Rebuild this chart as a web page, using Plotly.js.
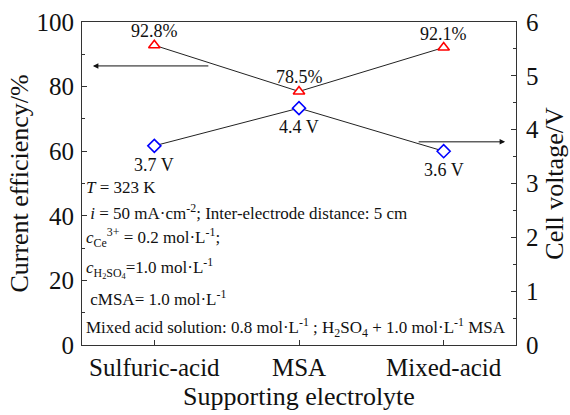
<!DOCTYPE html>
<html>
<head>
<meta charset="utf-8">
<script src="https://cdn.plot.ly/plotly-3.0.1.min.js"></script>
<style>
  html, body { margin: 0; padding: 0; background: #fff; }
  #chart { width: 570px; height: 415px; }
</style>
</head>
<body>
<div id="chart"></div>
<script>
// Supporting electrolytes compared
const electrolytes = ['Sulfuric-acid', 'MSA', 'Mixed-acid'];
// Current efficiency, %
const efficiency = [92.8, 78.5, 92.1];
// Cell voltage, V
const voltage = [3.7, 4.4, 3.6];

const serif = '"Liberation Serif", "Times New Roman", serif';

const traces = [
  {
    x: electrolytes,
    y: efficiency,
    type: 'scatter',
    mode: 'lines+markers',
    line: { color: '#222', width: 1 },
    marker: { symbol: 'triangle-up', size: 10, color: '#fff', line: { color: '#ff0000', width: 1.6 } },
    cliponaxis: false,
    hoverinfo: 'skip'
  },
  {
    x: electrolytes,
    y: voltage,
    yaxis: 'y2',
    type: 'scatter',
    mode: 'lines+markers',
    line: { color: '#222', width: 1 },
    marker: { symbol: 'diamond', size: 10, color: '#fff', line: { color: '#0000ff', width: 1.6 } },
    cliponaxis: false,
    hoverinfo: 'skip'
  }
];

// Value labels: above the efficiency points, below the voltage points
const labelFont = { family: serif, size: 18, color: '#111' };
const valueLabels = []
  .concat(efficiency.map((v, i) => ({
    x: electrolytes[i], y: v, xref: 'x', yref: 'y',
    text: v.toFixed(1) + '%', showarrow: false, yshift: 14, font: labelFont
  })))
  .concat(voltage.map((v, i) => ({
    x: electrolytes[i], y: v, xref: 'x', yref: 'y2',
    text: v.toFixed(1) + ' V', showarrow: false, yshift: -19, font: labelFont
  })));

const noteFont = { family: serif, size: 17, color: '#111' };
const notes = [
  { y: 0.489, text: '<i>T</i> = 323 K' },
  { y: 0.412, text: ' <i>i</i> = 50 mA·cm<sup>-2</sup>; Inter-electrode distance: 5 cm' },
  { y: 0.334, text: '<i>c</i><sub>Ce</sub><sup>3+</sup> = 0.2 mol·L<sup>-1</sup>;' },
  { y: 0.238, text: '<i>c</i><sub>H<sub>2</sub>SO<sub>4</sub></sub>=1.0 mol·L<sup>-1</sup>' },
  { y: 0.146, text: ' cMSA= 1.0 mol·L<sup>-1</sup>' },
  { y: 0.053, text: 'Mixed acid solution: 0.8 mol·L<sup>-1</sup> ; H<sub>2</sub>SO<sub>4</sub> + 1.0 mol·L<sup>-1</sup> MSA' }
].map(n => ({
  xref: 'paper', yref: 'paper', x: 0.005, y: n.y,
  xanchor: 'left', yanchor: 'middle',
  text: n.text, showarrow: false, font: noteFont
}));

// Arrows pointing each series to its own axis
const arrows = [
  { x: 0.025, y: 0.864, ax: 117, ay: 0 },
  { x: 0.975, y: 0.629, ax: -88, ay: 0 }
].map(a => ({
  xref: 'paper', yref: 'paper', x: a.x, y: a.y, ax: a.ax, ay: a.ay,
  text: '', showarrow: true, arrowhead: 2, arrowsize: 1.1, arrowwidth: 1, arrowcolor: '#111'
}));

const tickFont = { family: serif, size: 25, color: '#111' };
const titleFont = { family: serif, size: 26, color: '#111' };

const layout = {
  width: 570,
  height: 415,
  margin: { l: 82, r: 54, t: 22, b: 70 },
  paper_bgcolor: '#fff',
  plot_bgcolor: '#fff',
  showlegend: false,
  font: { family: serif, color: '#111' },
  xaxis: {
    type: 'category',
    range: [-0.5, 2.5],
    showline: true, linecolor: '#333', linewidth: 1, mirror: true,
    ticks: 'inside', ticklen: 5, tickcolor: '#333',
    tickfont: tickFont,
    showgrid: false, zeroline: false,
    title: { text: 'Supporting electrolyte', font: titleFont, standoff: 6 }
  },
  yaxis: {
    range: [0, 100],
    dtick: 20,
    showline: true, linecolor: '#333', linewidth: 1,
    ticks: 'inside', ticklen: 5, tickcolor: '#333',
    minor: { dtick: 10, ticks: 'inside', ticklen: 3, tickcolor: '#333' },
    tickfont: tickFont,
    ticklabelstandoff: 2,
    showgrid: false, zeroline: false,
    title: { text: 'Current efficiency/%', font: titleFont, standoff: 0 }
  },
  yaxis2: {
    range: [0, 6],
    dtick: 1,
    overlaying: 'y',
    side: 'right',
    showline: true, linecolor: '#333', linewidth: 1,
    ticks: 'inside', ticklen: 5, tickcolor: '#333',
    minor: { dtick: 0.5, ticks: 'inside', ticklen: 3, tickcolor: '#333' },
    tickfont: tickFont,
    ticklabelstandoff: 4,
    showgrid: false, zeroline: false,
    title: { text: 'Cell voltage/V', font: titleFont, standoff: 6 }
  },
  annotations: valueLabels.concat(notes, arrows)
};

Plotly.newPlot('chart', traces, layout, { displayModeBar: false, staticPlot: true });
</script>
</body>
</html>
